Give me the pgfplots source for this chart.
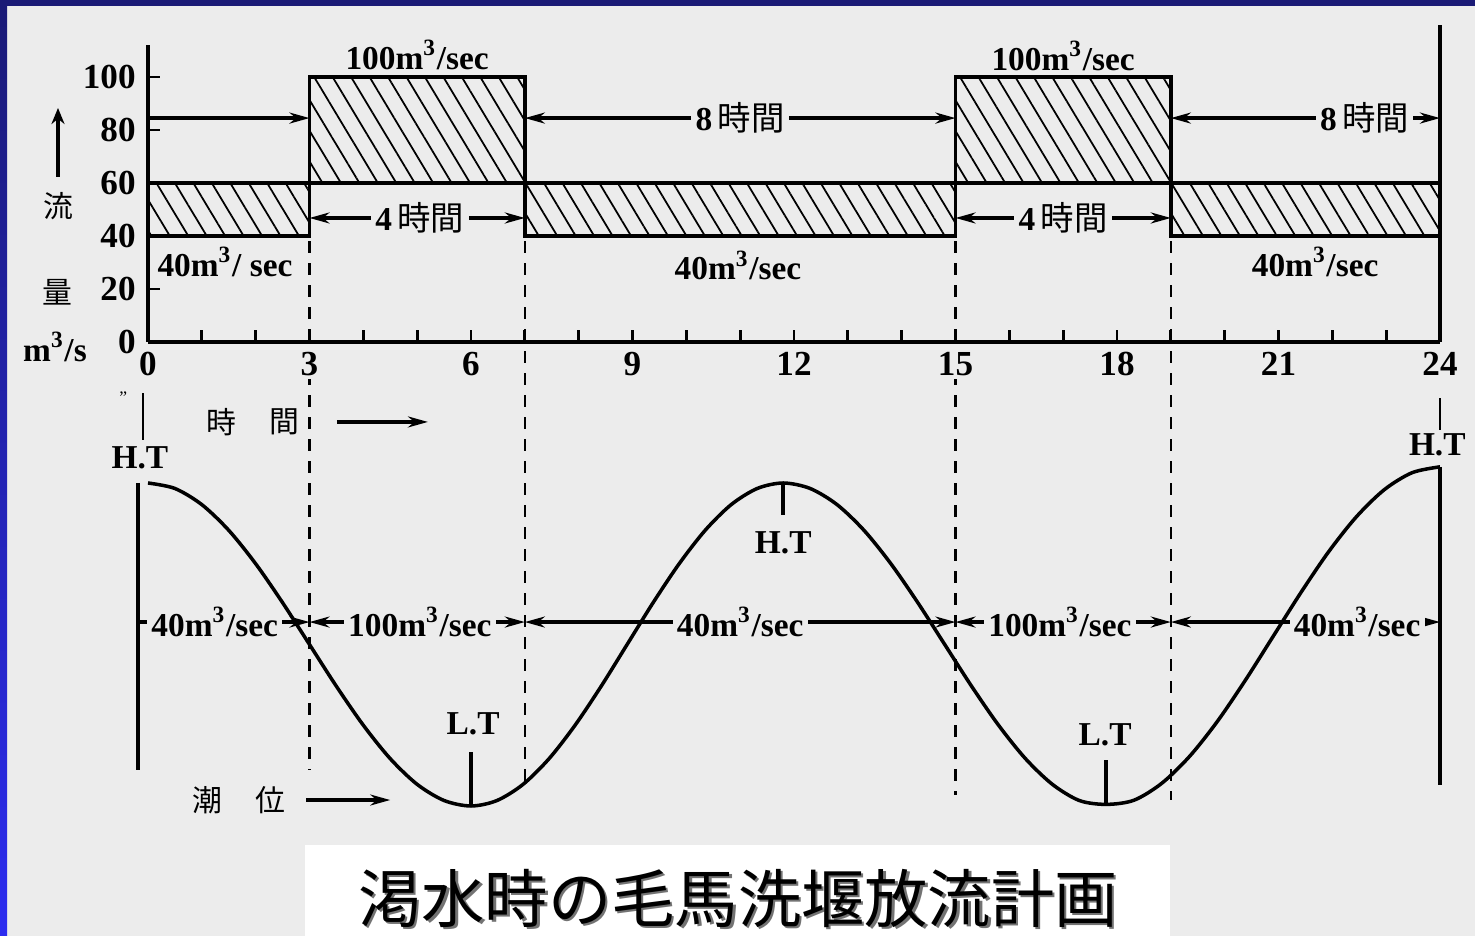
\documentclass[border=0pt]{standalone}
\usepackage{pgfplots}
\pgfplotsset{compat=1.18}
\usepackage{fontspec}
\setmainfont{Liberation Serif}
\newfontfamily\jp{Noto Sans CJK JP}
\usetikzlibrary{patterns.meta,arrows.meta}
\definecolor{paper}{RGB}{236,236,236}
\definecolor{navy}{RGB}{26,26,118}
\definecolor{brightblue}{RGB}{44,44,240}
\newcommand{\cu}{m\textsuperscript{3}/sec}

\begin{document}
\begin{tikzpicture}[
  lbl/.style={font=\bfseries\fontsize{9.5}{11}\selectfont, fill=paper, inner sep=1.2pt},
  tip/.tip={Stealth[length=2mm,width=1.1mm]},
  dim/.style={line width=0.9pt, tip-tip},
  hatch/.style={draw=none, pattern={Lines[angle=-59,distance=4.5pt,line width=0.5pt]}},
  divline/.style={dash pattern=on 1.2mm off 1mm, line width=0.6pt},
]
\useasboundingbox (0,0) rectangle (147.5mm,-93.6mm);
\fill[paper] (0,0) rectangle (147.5mm,-93.6mm);
\fill[navy] (0,0) rectangle (147.5mm,-0.6mm);
\shade[top color=navy,bottom color=brightblue] (0,0) rectangle (0.7mm,-93.6mm);

% dividers between release periods (drawn first, under labels)
\begin{axis}[
  at={(14.8mm,-34.2mm)}, anchor=south west,
  scale only axis, width=129.2mm, height=29.68mm,
  xmin=0, xmax=24, ymin=0, ymax=112,
  hide axis, clip=false,
]
\draw[divline] (axis cs:3,38) -- (axis cs:3,-161.5);
\draw[divline] (axis cs:7,38) -- (axis cs:7,-169);
\draw[divline] (axis cs:15,38) -- (axis cs:15,-171);
\draw[divline] (axis cs:19,38) -- (axis cs:19,-172.8);
\end{axis}

% --- flow plan (upper chart)
\begin{axis}[
  at={(14.8mm,-34.2mm)}, anchor=south west,
  scale only axis, width=129.2mm, height=29.68mm,
  xmin=0, xmax=24, ymin=0, ymax=112,
  axis x line=bottom, axis y line=left,
  axis line style={-, line width=1pt},
  clip=false,
  xtick={0,3,...,24},
  minor xtick={1,2,4,5,7,8,10,11,13,14,16,17,19,20,22,23},
  ytick={0,20,...,100},
  tick align=inside,
  major tick length=1.2mm, minor tick length=1.2mm,
  tick style={line width=0.8pt, black},
  ticklabel style={font=\bfseries\fontsize{10}{12}\selectfont},
  xticklabel style={fill=paper, inner sep=1pt, yshift=-0.6mm},
  /pgf/number format/assume math mode=true,
]
% hatched areas
\addplot[hatch] coordinates {(0,40) (3,40) (3,60) (0,60)} --cycle;
\addplot[hatch] coordinates {(7,40) (15,40) (15,60) (7,60)} --cycle;
\addplot[hatch] coordinates {(19,40) (24,40) (24,60) (19,60)} --cycle;
\addplot[hatch] coordinates {(3,60) (7,60) (7,100) (3,100)} --cycle;
\addplot[hatch] coordinates {(15,60) (19,60) (19,100) (15,100)} --cycle;
% release steps
\addplot[const plot, line width=1pt] coordinates {(0,40) (3,100) (7,40) (15,100) (19,40) (24,40)};
\addplot[line width=1pt] coordinates {(0,60) (24,60)};
\draw[line width=1pt] (axis cs:24,0) -- (axis cs:24,119.6);

\node[lbl, fill=none] at (axis cs:5,108.3) {100\cu};
\node[lbl, fill=none] at (axis cs:17,108) {100\cu};

\draw[line width=0.9pt, -tip] (axis cs:0,84.5) -- (axis cs:3,84.5);
\draw[dim] (axis cs:7,84.5) -- (axis cs:15,84.5);
\node[lbl] at (axis cs:11,84.5) {8\,{\jp\mdseries 時間}};
\draw[dim] (axis cs:19,84.5) -- (axis cs:24,84.5);
\node[lbl] at (axis cs:22.6,84.5) {8\,{\jp\mdseries 時間}};

\draw[dim] (axis cs:3,46.8) -- (axis cs:7,46.8);
\node[lbl] at (axis cs:5.05,46.8) {4\,{\jp\mdseries 時間}};
\draw[dim] (axis cs:15,46.8) -- (axis cs:19,46.8);
\node[lbl] at (axis cs:17,46.8) {4\,{\jp\mdseries 時間}};

\node[lbl, fill=none] at (axis cs:1.43,30.2) {40m\textsuperscript{3}/ sec};
\node[lbl, fill=none] at (axis cs:10.96,29) {40\cu};
\node[lbl, fill=none] at (axis cs:21.68,30.2) {40\cu};
\end{axis}

% y label
\draw[line width=1.3pt, -{Stealth[length=1.6mm,width=1.3mm]}] (5.8mm,-17.7mm) -- (5.8mm,-10.8mm);
\node[font=\jp\fontsize{8.5}{10}\selectfont] at (5.8mm,-20.6mm) {流};
\node[font=\jp\fontsize{8.5}{10}\selectfont] at (5.7mm,-29.2mm) {量};
\node[font=\bfseries\fontsize{9.5}{11}\selectfont] at (5.5mm,-34.7mm) {m\textsuperscript{3}/s};

% --- tide (lower chart)
\begin{axis}[
  at={(14.8mm,-80.6mm)}, anchor=south west,
  scale only axis, width=129.2mm, height=32.3mm,
  xmin=0, xmax=24, ymin=-1, ymax=1,
  hide axis, clip=false,
]
\draw[line width=1pt] (axis cs:-0.186,1) -- (axis cs:-0.186,-0.777);
\draw[line width=1pt] (axis cs:24,1.1) -- (axis cs:24,-0.87);
\draw[line width=0.8pt] (axis cs:-0.093,1.557) -- (axis cs:-0.093,1.266);
\node[font=\tiny] at (axis cs:-0.46,1.53) {''};
\node[lbl, fill=none] at (axis cs:-0.15,1.155) {H.T};
\node[font=\jp\fontsize{8.5}{10}\selectfont] at (axis cs:1.37,1.378) {時};
\node[font=\jp\fontsize{8.5}{10}\selectfont] at (axis cs:2.54,1.378) {間};
\draw[line width=0.9pt, -tip] (axis cs:3.51,1.378) -- (axis cs:5.2,1.378);

\draw[line width=0.8pt] (axis cs:24,1.526) -- (axis cs:24,1.328);
\node[lbl, fill=none] at (axis cs:23.95,1.235) {H.T};

\draw[line width=1pt] (axis cs:11.8,1) -- (axis cs:11.8,0.8);
\node[lbl, fill=none] at (axis cs:11.8,0.63) {H.T};
\draw[line width=1pt] (axis cs:6,-1) -- (axis cs:6,-0.666);
\node[lbl, fill=none] at (axis cs:6.04,-0.49) {L.T};
\draw[line width=1pt] (axis cs:17.8,-0.99) -- (axis cs:17.8,-0.715);
\node[lbl, fill=none] at (axis cs:17.78,-0.56) {L.T};

\node[font=\jp\fontsize{8.5}{10}\selectfont] at (axis cs:1.1,-0.963) {潮};
\node[font=\jp\fontsize{8.5}{10}\selectfont] at (axis cs:2.27,-0.963) {位};
\draw[line width=0.9pt, -tip] (axis cs:2.94,-0.963) -- (axis cs:4.5,-0.963);

% release rows
\draw[line width=0.9pt, -tip] (axis cs:-0.186,0.139) -- (axis cs:3,0.139);
\draw[dim] (axis cs:3,0.139) -- (axis cs:7,0.139);
\draw[dim] (axis cs:7,0.139) -- (axis cs:15,0.139);
\draw[dim] (axis cs:15,0.139) -- (axis cs:19,0.139);
\draw[dim] (axis cs:19,0.139) -- (axis cs:24,0.139);
\node[lbl] at (axis cs:1.24,0.139) {40\cu};
\node[lbl] at (axis cs:5.05,0.139) {100\cu};
\node[lbl] at (axis cs:11.0,0.139) {40\cu};
\node[lbl] at (axis cs:16.94,0.139) {100\cu};
\node[lbl] at (axis cs:22.46,0.139) {40\cu};

% tide curve
\addplot[smooth, line width=1pt] coordinates {
 (0,1) (0.5,0.966) (1,0.866) (1.5,0.707) (2,0.5) (2.5,0.259) (3,0)
 (3.5,-0.259) (4,-0.5) (4.5,-0.707) (5,-0.866) (5.5,-0.966) (6,-1)
 (6.483,-0.966) (6.967,-0.866) (7.45,-0.707) (7.933,-0.5) (8.417,-0.259) (8.9,0)
 (9.383,0.259) (9.867,0.5) (10.35,0.707) (10.833,0.866) (11.317,0.966) (11.8,1)
 (12.3,0.966) (12.8,0.866) (13.3,0.707) (13.8,0.5) (14.3,0.259) (14.8,0)
 (15.3,-0.259) (15.8,-0.5) (16.3,-0.707) (16.8,-0.866) (17.3,-0.966) (17.8,-0.99)
 (18.317,-0.964) (18.833,-0.859) (19.35,-0.692) (19.867,-0.475) (20.383,-0.222) (20.9,0.05)
 (21.417,0.322) (21.933,0.575) (22.45,0.792) (22.967,0.959) (23.483,1.064) (24,1.1)
};
\end{axis}

% title
\fill[white] (30.5mm,-84.5mm) rectangle (117mm,-93.6mm);
\node[font=\jp\fontsize{18}{20}\selectfont, text=black!55] at (74.05mm,-90.05mm) {渇水時の毛馬洗堰放流計画};
\node[font=\jp\fontsize{18}{20}\selectfont] at (73.8mm,-89.8mm) {渇水時の毛馬洗堰放流計画};
\end{tikzpicture}
\end{document}
